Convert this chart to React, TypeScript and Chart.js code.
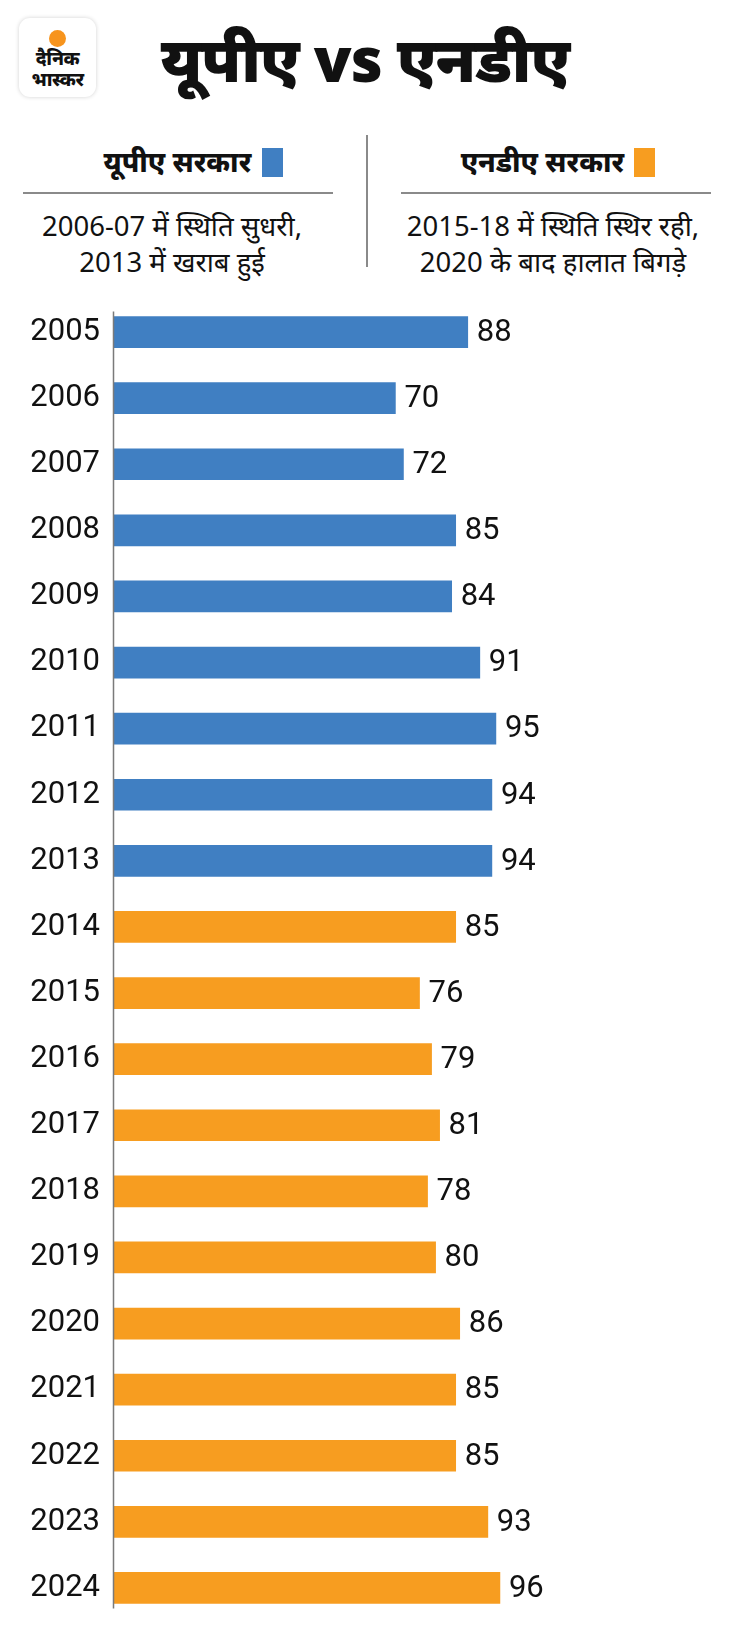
import React, { useEffect, useRef } from "react";
import { Chart, registerables } from "chart.js";

Chart.register(...registerables);

const years = ["2005","2006","2007","2008","2009","2010","2011","2012","2013","2014","2015","2016","2017","2018","2019","2020","2021","2022","2023","2024"];
const values = [88,70,72,85,84,91,95,94,94,85,76,79,81,78,80,86,85,85,93,96];
const government = ["UPA","UPA","UPA","UPA","UPA","UPA","UPA","UPA","UPA","NDA","NDA","NDA","NDA","NDA","NDA","NDA","NDA","NDA","NDA","NDA"];

const BLUE = "#407FC2";
const ORANGE = "#F79D20";
const colorFor: Record<string, string> = { UPA: BLUE, NDA: ORANGE };

const FONT = "'Noto Sans', Roboto, sans-serif";

const axisLinePlugin = {
  id: "axisLine",
  afterDatasetsDraw(chart: any) {
    const meta = chart.getDatasetMeta(0);
    const first = meta.data[0];
    const last = meta.data[meta.data.length - 1];
    const x = chart.scales.x.getPixelForValue(0);
    const ctx = chart.ctx;
    ctx.save();
    ctx.strokeStyle = "#7a7a7a";
    ctx.lineWidth = 1.5;
    ctx.beginPath();
    ctx.moveTo(x - 0.5, first.y - first.height / 2 - 5);
    ctx.lineTo(x - 0.5, last.y + last.height / 2 + 5);
    ctx.stroke();
    ctx.restore();
  },
};

const valueLabelPlugin = {
  id: "valueLabels",
  afterDatasetsDraw(chart: any) {
    const meta = chart.getDatasetMeta(0);
    const ctx = chart.ctx;
    ctx.save();
    ctx.fillStyle = "#111";
    ctx.font = "31px Roboto";
    ctx.textAlign = "left";
    ctx.textBaseline = "middle";
    meta.data.forEach((bar: any, i: number) => {
      ctx.fillText(String(values[i]), bar.x + 9, bar.y + 1);
    });
    ctx.restore();
  },
};

function BarChart() {
  const ref = useRef<HTMLCanvasElement | null>(null);
  useEffect(() => {
    if (!ref.current) return;
    const chart = new Chart(ref.current, {
      type: "bar",
      data: {
        labels: years,
        datasets: [
          {
            data: values,
            backgroundColor: government.map((g) => colorFor[g]),
            barThickness: 31,
            borderWidth: 0,
          },
        ],
      },
      options: {
        indexAxis: "y",
        animation: false,
        responsive: false,
        maintainAspectRatio: false,
        layout: { padding: { top: 19, bottom: 17, left: 0, right: 214 } },
        plugins: { legend: { display: false }, tooltip: { enabled: false } },
        scales: {
          x: { display: false, min: 0, max: 100 },
          y: {
            grid: { display: false, drawTicks: false },
            border: { display: false },
            ticks: {
              color: "#111",
              font: { family: "Roboto", size: 31 },
              padding: 14,
            },
            afterFit(scale: any) {
              scale.width = 114;
              scale.paddingTop = 0;
              scale.paddingBottom = 0;
            },
          },
        },
      },
      plugins: [axisLinePlugin, valueLabelPlugin],
    });
    return () => chart.destroy();
  }, []);
  return <canvas ref={ref} width={730} height={1358} style={{ position: "absolute", left: 0, top: 280, width: 730, height: 1358 }} />;
}

export default function App() {
  useEffect(() => {
    document.body.style.margin = "0";
  }, []);
  const abs = (s: React.CSSProperties): React.CSSProperties => ({ position: "absolute", ...s });
  return (
    <div style={{ position: "relative", width: 730, height: 1638, background: "#fff", fontFamily: FONT, color: "#111", overflow: "hidden" }}>
      {/* logo */}
      <div style={abs({ left: 19, top: 18, width: 77, height: 79, borderRadius: 11, background: "#fff", boxShadow: "0 0 4px rgba(0,0,0,0.18)" })}>
        <div style={abs({ left: 30, top: 12, width: 17, height: 17, borderRadius: "50%", background: "#F7941D" })} />
        <div style={abs({ left: 0, width: 77, top: 29, textAlign: "center", fontSize: 19, fontWeight: 800, lineHeight: "22px", letterSpacing: -0.5 })}>दैनिक</div>
        <div style={abs({ left: 0, width: 77, top: 50, textAlign: "center", fontSize: 19, fontWeight: 800, lineHeight: "22px", letterSpacing: -0.5 })}>भास्कर</div>
      </div>
      {/* title */}
      <div style={abs({ left: 0, width: 730, top: 16, textAlign: "center", fontSize: 62, fontWeight: 900, lineHeight: "84px", letterSpacing: -1 })}>यूपीए vs एनडीए</div>
      {/* divider */}
      <div style={abs({ left: 366, top: 135, width: 1.5, height: 132, background: "#8a8a8a" })} />
      {/* left heading */}
      <div style={abs({ left: 38, width: 310, top: 142, textAlign: "center", fontSize: 28, fontWeight: 800, lineHeight: "38px" })}>
        यूपीए सरकार <span style={{ display: "inline-block", width: 21, height: 29, background: BLUE, verticalAlign: "-5px", marginLeft: 3 }} />
      </div>
      <div style={abs({ left: 23, top: 192, width: 310, height: 1.5, background: "#8a8a8a" })} />
      <div style={abs({ left: 2, width: 340, top: 208, textAlign: "center", fontSize: 27.5, lineHeight: "36px" })}>
        2006-07 में स्थिति सुधरी,<br />2013 में खराब हुई
      </div>
      {/* right heading */}
      <div style={abs({ left: 403, width: 310, top: 142, textAlign: "center", fontSize: 28, fontWeight: 800, lineHeight: "38px" })}>
        एनडीए सरकार <span style={{ display: "inline-block", width: 21, height: 29, background: ORANGE, verticalAlign: "-5px", marginLeft: 3 }} />
      </div>
      <div style={abs({ left: 401, top: 192, width: 310, height: 1.5, background: "#8a8a8a" })} />
      <div style={abs({ left: 383, width: 340, top: 208, textAlign: "center", fontSize: 27.5, lineHeight: "36px" })}>
        2015-18 में स्थिति स्थिर रही,<br />2020 के बाद हालात बिगड़े
      </div>
      <BarChart />
    </div>
  );
}
